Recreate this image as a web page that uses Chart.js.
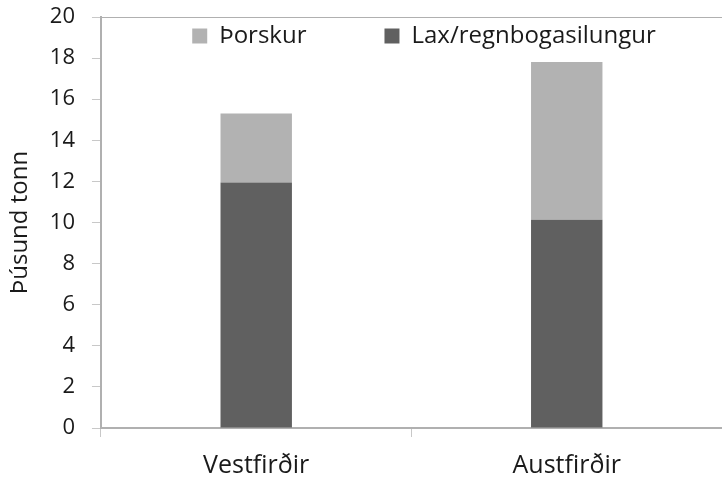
<!DOCTYPE html>
<html>
<head>
<meta charset="utf-8">
<script src="https://cdn.jsdelivr.net/npm/chart.js@4"></script>
<style>
  html, body { margin: 0; padding: 0; background: #fff; }
  #wrap { width: 722px; height: 479px; }
</style>
</head>
<body>
<div id="wrap"><canvas id="fishChart" width="722" height="479"></canvas></div>
<script>
const categories = ['Vestfirðir', 'Austfirðir'];
const laxValues = [11.95, 10.13];
const thorskurValues = [3.35, 7.68];
const yTicks = [0, 2, 4, 6, 8, 10, 12, 14, 16, 18, 20];

const axisGray = '#b0b0b0';
const tickGray = '#c8c8c8';
const textColor = '#1a1a1a';
const fontFamily = '"Open Sans", sans-serif';

// legend sits inside the plot area (top), so it takes no layout height
const legendInside = {
  id: 'legendInside',
  beforeInit(chart) {
    const lg = chart.legend;
    if (!lg) return;
    const fit = lg.fit;
    lg.fit = function () {
      this.maxWidth = 2000;
      fit.call(this);
      this.height = 0;
    };
  },
  afterLayout(chart) {
    const lg = chart.legend;
    lg.left = 24;
    lg.right = 824;
    lg.top = -54;
    lg.bottom = 200;
  }
};

// keep scale paddings out of the plot area placement
const noScalePad = scale => {
  scale.paddingTop = 0;
  scale.paddingBottom = 0;
  scale.paddingLeft = 0;
  scale.paddingRight = 0;
};

new Chart(document.getElementById('fishChart'), {
  type: 'bar',
  data: {
    labels: categories,
    datasets: [
      {
        label: 'Lax/regnbogasilungur',
        data: laxValues,
        backgroundColor: '#606060',
        barPercentage: 0.46,
        categoryPercentage: 0.5
      },
      {
        label: 'Þorskur',
        data: thorskurValues,
        backgroundColor: '#b2b2b2',
        barPercentage: 0.46,
        categoryPercentage: 0.5
      }
    ]
  },
  options: {
    responsive: false,
    animation: false,
    layout: { padding: { left: 6, right: -5, top: 17, bottom: -16 } },
    plugins: {
      tooltip: { enabled: false },
      legend: {
        position: 'top',
        align: 'center',
        reverse: true,
        labels: {
          boxWidth: 15,
          boxHeight: 15,
          padding: 78,
          color: textColor,
          font: { family: fontFamily, size: 24 }
        }
      }
    },
    scales: {
      x: {
        stacked: true,
        offset: true,
        afterFit: noScalePad,
        border: { color: axisGray, width: 2 },
        grid: { offset: true, drawOnChartArea: false, tickLength: 9, color: tickGray },
        ticks: { color: textColor, padding: 14, font: { family: fontFamily, size: 25 } }
      },
      y: {
        stacked: true,
        min: 0,
        max: 20,
        afterBuildTicks: axis => { axis.ticks = yTicks.map(v => ({ value: v })); },
        afterFit: noScalePad,
        border: { color: axisGray, width: 2 },
        grid: {
          tickLength: 9,
          color: ctx => (ctx.tick && ctx.tick.value === 20 ? axisGray : 'rgba(0,0,0,0)'),
          tickColor: tickGray
        },
        ticks: { color: textColor, padding: 17, font: { family: fontFamily, size: 22 } },
        title: {
          display: true,
          text: 'Þúsund tonn',
          color: textColor,
          padding: { top: 0, bottom: -2 },
          font: { family: fontFamily, size: 24 }
        }
      }
    }
  },
  plugins: [legendInside]
});
</script>
</body>
</html>
